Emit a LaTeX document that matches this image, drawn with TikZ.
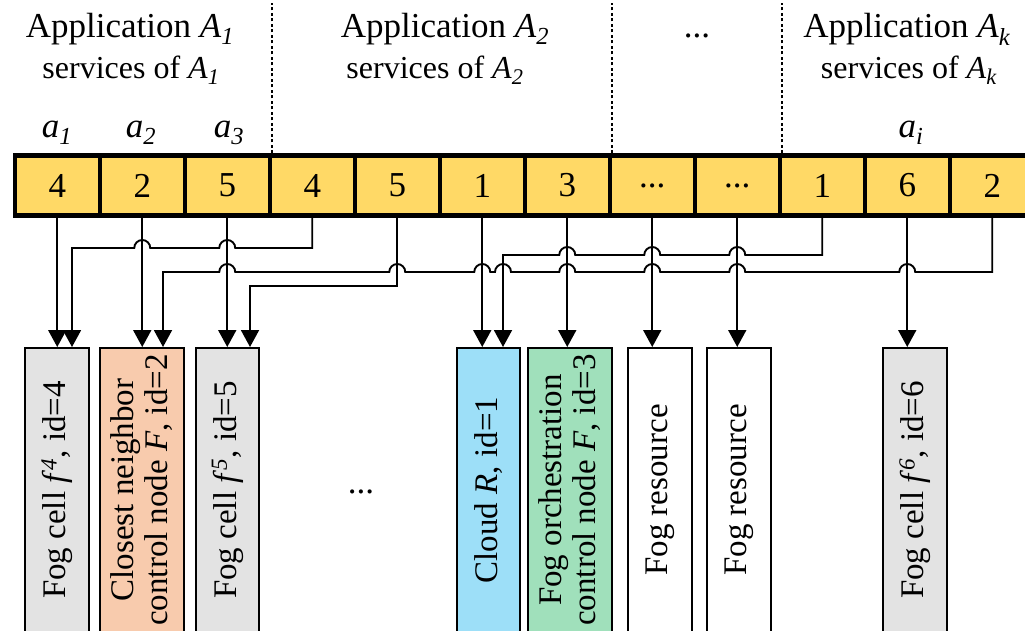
\documentclass[tikz,border=0pt]{standalone}
\usepackage{fontspec}
\setmainfont{Liberation Serif}
\usetikzlibrary{arrows.meta}

\definecolor{cellfill}{RGB}{255,217,102}
\definecolor{fogcell}{RGB}{227,227,227}
\definecolor{neighbor}{RGB}{248,203,173}
\definecolor{cloudc}{RGB}{157,223,248}
\definecolor{orch}{RGB}{160,224,187}

\newcommand\hdrfont{\fontsize{35}{38}\selectfont}
\newcommand\subfont{\fontsize{32}{35}\selectfont}
\newcommand\boxfont{\fontsize{33}{34}\selectfont}
\newcommand\itsub[2]{\textit{#1}\textsubscript{\textit{#2}}}

\begin{document}
\begin{tikzpicture}[x=1pt,y=1pt,
  hdr/.style={anchor=base, inner sep=0pt, font=\hdrfont},
  subhdr/.style={anchor=base, inner sep=0pt, font=\subfont},
  cell/.style={draw, line width=4.5pt, fill=cellfill, minimum width=85pt,
    minimum height=60pt, inner sep=0pt, font=\hdrfont},
  sep/.style={line width=2.5pt, dash pattern=on 3pt off 2.5pt},
  conn/.style={line width=1.9pt, -{Triangle[length=17pt,width=18pt]}},
  fogbox/.style={draw, line width=2pt, rotate=90, minimum width=284pt,
    inner sep=0pt, align=center, font=\boxfont}]
\useasboundingbox (0,0) rectangle (1025,-630);

% application headers
\node[hdr] (t1) at (130,-37) {Application \itsub{A}{1}};
\node[subhdr] (s1) at (131,-78) {services of \itsub{A}{1}};
\node[hdr] (t2) at (445,-37) {Application \itsub{A}{2}};
\node[subhdr] (s2) at (435,-78) {services of \itsub{A}{2}};
\node[hdr] (tdots) at (697,-37) {...};
\node[hdr] (tk) at (907,-37) {Application \itsub{A}{k}};
\node[subhdr] (sk) at (909,-78) {services of \itsub{A}{k}};
\node[hdr] (a1) at (57,-137) {\itsub{a}{1}};
\node[hdr] (a2) at (141,-137) {\itsub{a}{2}};
\node[hdr] (a3) at (229,-137) {\itsub{a}{3}};
\node[hdr] (ai) at (911,-137) {\itsub{a}{i}};

% service vector
\node[cell] (c1)  at (57.25,-185.5)  {4};
\node[cell] (c2)  at (142.25,-185.5) {2};
\node[cell] (c3)  at (227.25,-185.5) {5};
\node[cell] (c4)  at (312.25,-185.5) {4};
\node[cell] (c5)  at (397.25,-185.5) {5};
\node[cell] (c6)  at (482.25,-185.5) {1};
\node[cell] (c7)  at (567.25,-185.5) {3};
\node[cell] (c8)  at (652.25,-185.5) {...};
\node[cell] (c9)  at (737.25,-185.5) {...};
\node[cell] (c10) at (822.25,-185.5) {1};
\node[cell] (c11) at (907.25,-185.5) {6};
\node[cell] (c12) at (992.25,-185.5) {2};

% separators between applications
\draw[sep] (c3.north east) -- ++(0,150);
\draw[sep] (c7.north east) -- ++(0,150);
\draw[sep] (c9.north east) -- ++(0,150);

% resources
\node[fogbox, fill=fogcell, minimum height=64pt] (bf4) at (57,-490)
  {Fog cell \textit{f}\textsuperscript{\textit{4}}, id=4};
\node[fogbox, fill=neighbor, minimum height=84pt] (bcn) at (142,-490)
  {Closest neighbor\\control node \textit{F}, id=2};
\node[fogbox, fill=fogcell, minimum height=63pt] (bf5) at (227.5,-490)
  {Fog cell \textit{f}\textsuperscript{\textit{5}}, id=5};
\node[font=\hdrfont, inner sep=0pt] (mid) at (361,-492) {...};
\node[fogbox, fill=cloudc, minimum height=63pt] (bcl) at (488.5,-490)
  {Cloud \textit{R}, id=1};
\node[fogbox, fill=orch, minimum height=84pt] (bfo) at (570,-490)
  {Fog orchestration\\control node \textit{F}, id=3};
\node[fogbox, fill=white, minimum height=64pt] (br1) at (660,-490)
  {Fog resource};
\node[fogbox, fill=white, minimum height=64pt] (br2) at (739,-490)
  {Fog resource};
\node[fogbox, fill=fogcell, minimum height=64pt] (bf6) at (915,-490)
  {Fog cell \textit{f}\textsuperscript{\textit{6}}, id=6};

% direct placements
\draw[conn] (c1.south)  -- (c1.south  |- bf4.east);
\draw[conn] (c2.south)  -- (c2.south  |- bcn.east);
\draw[conn] (c3.south)  -- (c3.south  |- bf5.east);
\draw[conn] (c6.south)  -- (c6.south  |- bcl.east);
\draw[conn] (c7.south)  -- (c7.south  |- bfo.east);
\draw[conn] (c8.south)  -- (c8.south  |- br1.east);
\draw[conn] (c9.south)  -- (c9.south  |- br2.east);
\draw[conn] (c11.south) -- (c11.south |- bf6.east);

% routed placements, hopping over the vertical lines they cross
\draw[conn] (c4.south) -- (312.25,-248)
  -- (235.25,-248) arc[start angle=0,end angle=180,radius=8]
  -- (150.25,-248) arc[start angle=0,end angle=180,radius=8]
  -- (72,-248) -- (bf4.east -| 72,0);
\draw[conn] (c10.south) -- (822.25,-255)
  -- (745.25,-255) arc[start angle=0,end angle=180,radius=8]
  -- (660.25,-255) arc[start angle=0,end angle=180,radius=8]
  -- (575.25,-255) arc[start angle=0,end angle=180,radius=8]
  -- (503,-255) -- (bcl.east -| 503,0);
\draw[conn] (c12.south) -- (992.25,-272)
  -- (915.25,-272) arc[start angle=0,end angle=180,radius=8]
  -- (745.25,-272) arc[start angle=0,end angle=180,radius=8]
  -- (660.25,-272) arc[start angle=0,end angle=180,radius=8]
  -- (575.25,-272) arc[start angle=0,end angle=180,radius=8]
  -- (511,-272)    arc[start angle=0,end angle=180,radius=8]
  -- (490.25,-272) arc[start angle=0,end angle=180,radius=8]
  -- (405.25,-272) arc[start angle=0,end angle=180,radius=8]
  -- (235.25,-272) arc[start angle=0,end angle=180,radius=8]
  -- (163,-272) -- (bcn.east -| 163,0);
\draw[conn] (c5.south) -- (397.25,-286) -- (250,-286) -- (bf5.east -| 250,0);
\end{tikzpicture}
\end{document}
